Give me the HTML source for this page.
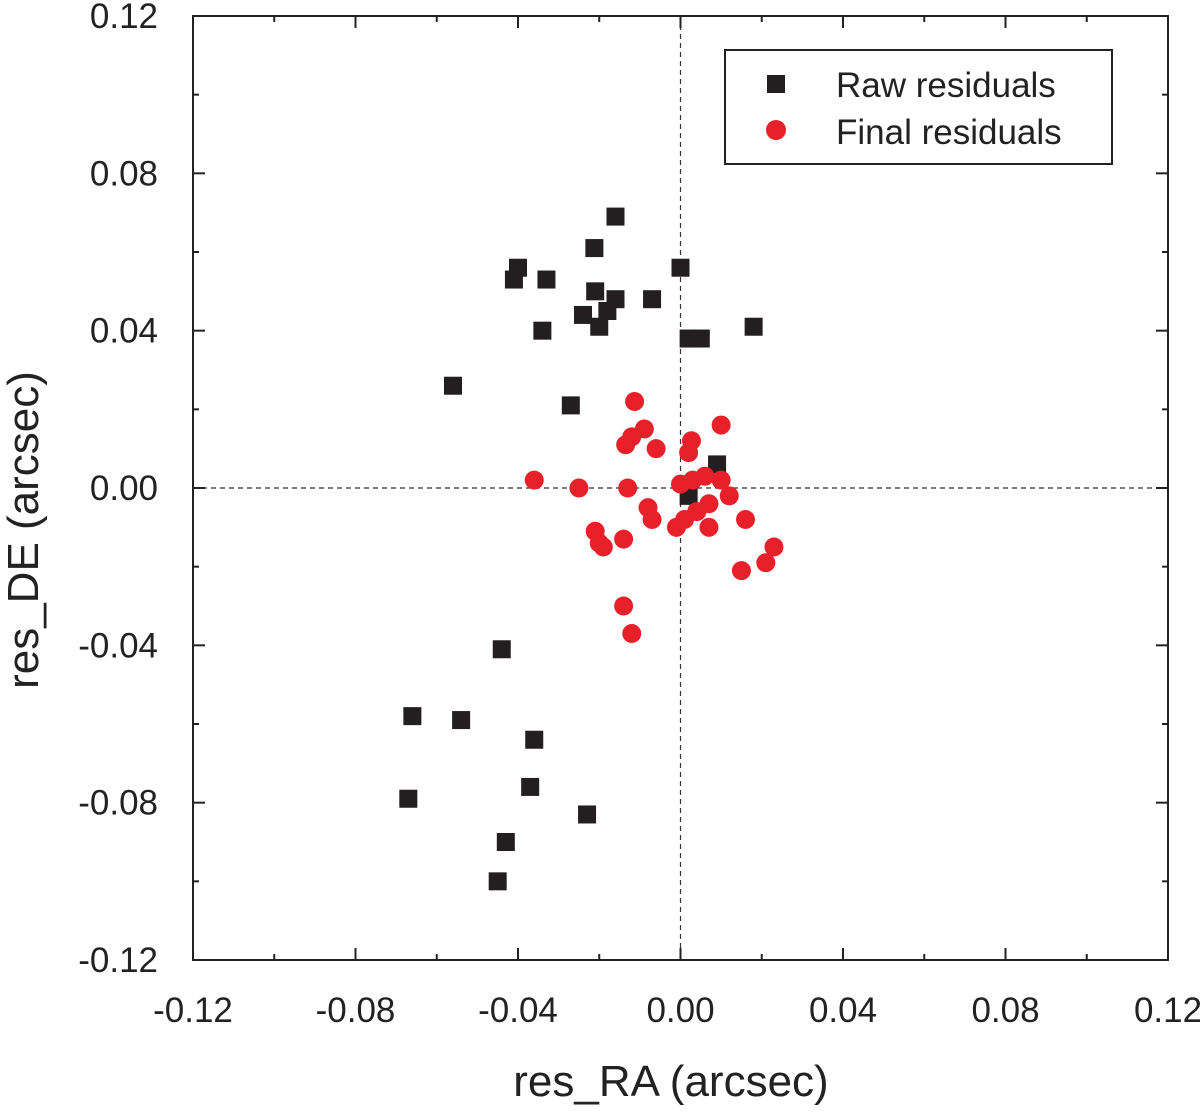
<!DOCTYPE html>
<html><head><meta charset="utf-8"><style>
body{margin:0;background:#fff}
svg text{font-family:"Liberation Sans",sans-serif;fill:#222}
</style></head><body>
<svg id="chart" width="1200" height="1107" viewBox="0 0 1200 1107" xmlns="http://www.w3.org/2000/svg"></svg>
<script>
const xTicks=[-0.12,-0.08,-0.04,0.00,0.04,0.08,0.12];
const yTicks=[-0.12,-0.08,-0.04,0.00,0.04,0.08,0.12];
const tickLabels=["-0.12","-0.08","-0.04","0.00","0.04","0.08","0.12"];
const rawX=[-0.016,-0.0212,-0.040,-0.041,-0.033,0.000,-0.021,-0.016,-0.007,-0.024,-0.018,-0.020,-0.034,0.018,0.002,0.005,-0.056,-0.027,0.009,0.002,-0.044,-0.066,-0.054,-0.036,-0.037,-0.067,-0.023,-0.043,-0.045];
const rawY=[0.069,0.061,0.056,0.053,0.053,0.056,0.050,0.048,0.048,0.044,0.045,0.041,0.040,0.041,0.038,0.038,0.026,0.021,0.006,-0.002,-0.041,-0.058,-0.059,-0.064,-0.076,-0.079,-0.083,-0.090,-0.100];
const finX=[-0.0113,-0.0089,-0.012,-0.0135,-0.006,0.0027,0.002,0.010,-0.036,-0.025,-0.013,0.000,0.003,0.006,0.010,0.012,-0.008,-0.007,0.001,-0.001,0.004,0.007,0.007,0.016,-0.021,-0.020,-0.019,-0.014,0.023,0.021,0.015,-0.014,-0.012];
const finY=[0.022,0.015,0.013,0.011,0.010,0.012,0.009,0.016,0.002,0.000,0.000,0.001,0.002,0.003,0.002,-0.002,-0.005,-0.008,-0.008,-0.010,-0.006,-0.004,-0.010,-0.008,-0.011,-0.014,-0.015,-0.013,-0.015,-0.019,-0.021,-0.030,-0.037];

const L=193,R=1168,T=16,B=960;
const sx=v=>L+(v+0.12)/0.24*(R-L);
const sy=v=>B-(v+0.12)/0.24*(B-T);
const svg=document.getElementById('chart');
const NS='http://www.w3.org/2000/svg';
function mk(tag,attrs,parent){const e=document.createElementNS(NS,tag);for(const k in attrs)e.setAttribute(k,attrs[k]);(parent||svg).appendChild(e);return e;}

let g=mk('g',{});


mk('line',{x1:sx(0),y1:T,x2:sx(0),y2:B,stroke:'#333','stroke-width':1.2,'stroke-dasharray':'5,4'},g);
mk('line',{x1:L,y1:sy(0),x2:R,y2:sy(0),stroke:'#333','stroke-width':1.2,'stroke-dasharray':'5,4'},g);

let fr=mk('rect',{x:L,y:T,width:R-L,height:B-T,fill:'none',stroke:'#222','stroke-width':2});



let tg=mk('g',{stroke:'#222','stroke-width':2});


for(let i=0;i<xTicks.length;i++){
  const x=sx(xTicks[i]),y=sy(yTicks[i]);
  mk('line',{x1:x,y1:B,x2:x,y2:B-12},tg);mk('line',{x1:x,y1:T,x2:x,y2:T+12},tg);
  mk('line',{x1:L,y1:y,x2:L+12,y2:y},tg);mk('line',{x1:R,y1:y,x2:R-12,y2:y},tg);
  if(i<xTicks.length-1){
    const mx=sx(xTicks[i]+0.02),my=sy(yTicks[i]+0.02);
    mk('line',{x1:mx,y1:B,x2:mx,y2:B-6},tg);mk('line',{x1:mx,y1:T,x2:mx,y2:T+6},tg);
    mk('line',{x1:L,y1:my,x2:L+6,y2:my},tg);mk('line',{x1:R,y1:my,x2:R-6,y2:my},tg);
  }
}
for(let i=0;i<xTicks.length;i++){
  const t=mk('text',{x:sx(xTicks[i]),y:1022,'font-size':35,'text-anchor':'middle'});
  t.textContent=tickLabels[i];
  
  
  const u=mk('text',{x:158,y:sy(yTicks[i])+12,'font-size':35,'text-anchor':'end'});
  u.textContent=tickLabels[i];
  
  
}
let xt=mk('text',{x:671,y:1096,'font-size':44,'text-anchor':'middle'});xt.textContent='res_RA (arcsec)';


let yt=mk('text',{x:0,y:0,'font-size':44,'text-anchor':'middle',transform:'translate(38,530) rotate(-90)'});yt.textContent='res_DE (arcsec)';



let rg=mk('g',{fill:'#231f20'});


for(let i=0;i<rawX.length;i++){
  const r=mk('rect',{x:sx(rawX[i])-9,y:sy(rawY[i])-9,width:18,height:18},rg);
  
  
}
let cg=mk('g',{fill:'#e8202a'});


for(let i=0;i<finX.length;i++){
  const c=mk('circle',{cx:sx(finX[i]),cy:sy(finY[i]),r:9.5},cg);
  
  
}

let lg=mk('g',{});


mk('rect',{x:725,y:50,width:387,height:114,fill:'#fff',stroke:'#222','stroke-width':2},lg);
mk('rect',{x:767,y:75,width:18,height:18,fill:'#231f20'},lg);
mk('circle',{cx:776,cy:130,r:10,fill:'#e8202a'},lg);
let l1=mk('text',{x:836,y:97,'font-size':35},lg);l1.textContent='Raw residuals';


let l2=mk('text',{x:836,y:144,'font-size':35},lg);l2.textContent='Final residuals';


</script>
</body></html>
